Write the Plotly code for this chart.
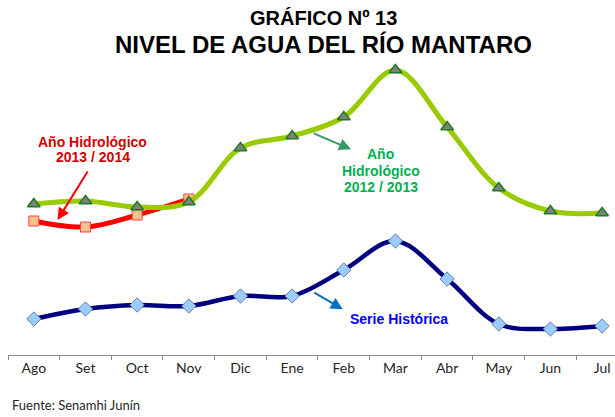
import plotly.graph_objects as go

# ---- data (water level, relative units) ----
meses = ["Ago", "Set", "Oct", "Nov", "Dic", "Ene", "Feb", "Mar", "Abr", "May", "Jun", "Jul"]
nivel_2012_2013 = [1.51, 1.54, 1.48, 1.53, 2.07, 2.19, 2.38, 2.85, 2.28, 1.67, 1.44, 1.42]
meses_2013_2014 = ["Ago", "Set", "Oct", "Nov"]
nivel_2013_2014 = [1.34, 1.28, 1.40, 1.56]
serie_historica = [0.36, 0.46, 0.50, 0.49, 0.59, 0.59, 0.85, 1.14, 0.76, 0.31, 0.26, 0.29]

fig = go.Figure()

fig.add_trace(go.Scatter(
    x=meses, y=serie_historica, mode="lines+markers", name="Serie Histórica",
    line=dict(color="#000080", width=4.5, shape="spline", smoothing=1),
    marker=dict(symbol="diamond", size=11, color="#99CCFF",
                line=dict(color="#6F7FA8", width=1)),
))
fig.add_trace(go.Scatter(
    x=meses_2013_2014, y=nivel_2013_2014, mode="lines+markers", name="Año Hidrológico 2013 / 2014",
    line=dict(color="#FF0000", width=5, shape="spline", smoothing=1),
    marker=dict(symbol="square", size=10, color="#FAC090",
                line=dict(color="#FF4040", width=1)),
))
fig.add_trace(go.Scatter(
    x=meses, y=nivel_2012_2013, mode="lines+markers", name="Año Hidrológico 2012 / 2013",
    line=dict(color="#99CC00", width=5, shape="spline", smoothing=1),
    marker=dict(symbol="triangle-up", size=11, color="#808080",
                line=dict(color="#1E7B1E", width=1.5)),
))

bold = "Liberation Sans, Arial, sans-serif"


def label(text, x, y, color):
    return dict(text="<b>" + text + "</b>", x=x, y=y, xref="x", yref="y",
                showarrow=False, xanchor="center", yanchor="middle",
                font=dict(family=bold, size=14, color=color))


def arrow(x, y, ax, ay, color):
    return dict(text="", x=x, y=y, ax=ax, ay=ay, xref="x", yref="y", axref="x", ayref="y",
                showarrow=True, arrowhead=2, arrowsize=1.2, arrowwidth=2,
                arrowcolor=color, standoff=0)


annotations = [
    # titles
    dict(text="<b>GRÁFICO Nº 13</b>", xref="paper", yref="paper", x=0.52, y=1.143,
         showarrow=False, xanchor="center", yanchor="middle",
         font=dict(family=bold, size=20, color="black")),
    dict(text="<b>NIVEL DE AGUA DEL RÍO MANTARO</b>", xref="paper", yref="paper", x=0.52, y=1.054,
         showarrow=False, xanchor="center", yanchor="middle",
         font=dict(family=bold, size=24, color="black")),
    # source
    dict(text="Fuente: Senamhi Junín", xref="paper", yref="paper", x=0.003, y=-0.17,
         showarrow=False, xanchor="left", yanchor="middle",
         font=dict(family="Lato, Carlito, sans-serif", size=13, color="#262626")),
    # series labels
    label("Año Hidrológico", 1.14, 2.133, "#D40000"),
    label("2013 / 2014", 1.14, 1.977, "#D40000"),
    label("Año", 6.72, 2.007, "#00B050"),
    label("Hidrológico", 6.72, 1.84, "#00B050"),
    label("2012 / 2013", 6.72, 1.68, "#00B050"),
    label("Serie Histórica", 7.06, 0.357, "#0000FF"),
    # arrows
    arrow(0.459, 1.35, 1.06, 1.85, "#FF0000"),
    arrow(6.14, 2.057, 5.39, 2.223, "#339966"),
    arrow(5.98, 0.457, 5.40, 0.633, "#0070C0"),
]

fig.update_layout(
    width=615, height=417,
    margin=dict(l=8, r=0, t=60, b=62),
    paper_bgcolor="white", plot_bgcolor="white",
    showlegend=False,
    annotations=annotations,
    xaxis=dict(
        type="category", range=[-0.5, 11.25], tickson="boundaries",
        showline=True, linecolor="#8C8C8C", linewidth=1,
        ticks="outside", ticklen=4, tickcolor="#8C8C8C", tickwidth=1,
        showgrid=False, zeroline=False,
        tickfont=dict(family="Lato, Carlito, sans-serif", size=14, color="#262626"),
    ),
    yaxis=dict(range=[0, 2.95], visible=False, showgrid=False, zeroline=False),
)

# remove the browser's default 8px body margin so the figure fills the window
fig.write_html("out.html",
               config={"displayModeBar": False},
               post_script="document.body.style.margin='0';document.body.style.overflow='hidden';")
